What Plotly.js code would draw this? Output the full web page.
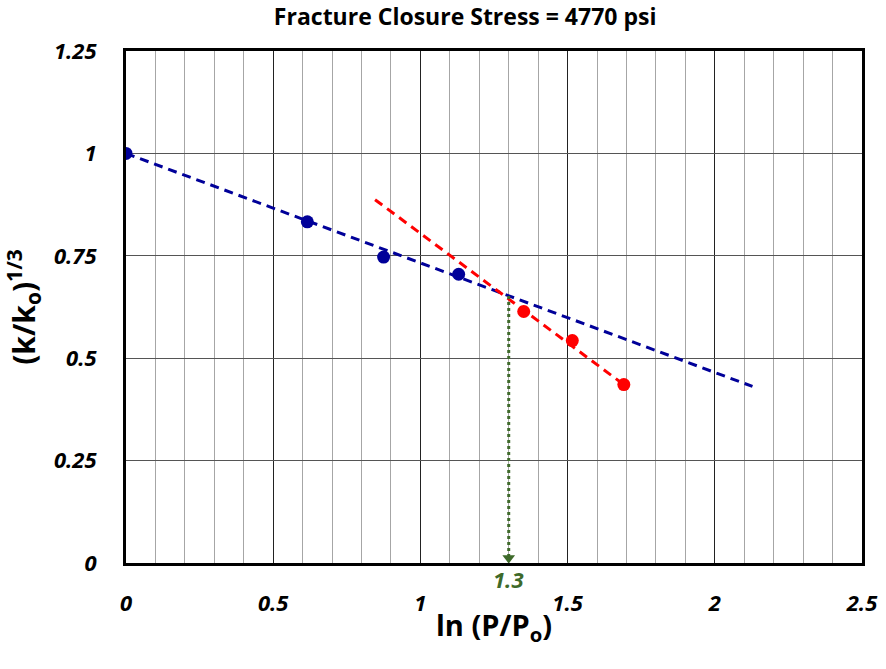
<!DOCTYPE html>
<html>
<head>
<meta charset="utf-8">
<script src="https://cdn.plot.ly/plotly-3.0.1.min.js"></script>
<style>html,body{margin:0;padding:0;background:#fff;}#chart{width:886px;height:669px;}</style>
</head>
<body>
<div id="chart"></div>
<script>
// Data
const blueX = [0, 0.616, 0.875, 1.13];
const blueY = [1.0, 0.833, 0.747, 0.705];
const redX = [1.351, 1.516, 1.691];
const redY = [0.614, 0.543, 0.4355];
const blueTrendX = [0, 2.128];
const blueTrendY = [1.0, 0.431];
const redTrendX = [0.846, 1.691];
const redTrendY = [0.887, 0.4355];
const closureX = [1.3, 1.3];
const closureY = [0.652, 0.012];
const closureLabel = "1.3";
const xTicks = [0, 0.5, 1, 1.5, 2, 2.5];
const yTicks = [0, 0.25, 0.5, 0.75, 1, 1.25];

const FONT = "Open Sans, Noto Sans, Liberation Sans, sans-serif";
const blue = "#000099";
const red = "#ff0000";
const green = "#3e6a2a";

const traces = [
  {x: blueTrendX, y: blueTrendY, mode: "lines", line: {color: blue, width: 3, dash: "9px,6px"}, hoverinfo: "skip"},
  {x: redTrendX, y: redTrendY, mode: "lines", line: {color: red, width: 3, dash: "9px,6px"}, hoverinfo: "skip"},
  {x: closureX, y: closureY, mode: "lines", line: {color: green, width: 3, dash: "dot"}, hoverinfo: "skip"},
  {x: [closureX[1]], y: [closureY[1]], mode: "markers", marker: {symbol: "triangle-down", size: 11, color: green}, hoverinfo: "skip"},
  {x: blueX, y: blueY, mode: "markers", marker: {color: blue, size: 13}},
  {x: redX, y: redY, mode: "markers", marker: {color: red, size: 13}}
];

const layout = {
  width: 886, height: 669,
  margin: {l: 126, r: 24, t: 51, b: 106},
  paper_bgcolor: "#fff", plot_bgcolor: "#fff",
  showlegend: false,
  font: {family: FONT, color: "#000"},
  title: {text: "Fracture Closure Stress = 4770 psi", font: {family: FONT, size: 23, weight: "bold", color: "#000"}, x: 0.525, xanchor: "center", y: 0.975, yanchor: "middle"},
  xaxis: {
    range: [0, 2.5], tickvals: xTicks, ticktext: xTicks.map(String),
    showline: true, mirror: true, linecolor: "#000", linewidth: 3,
    showgrid: true, gridcolor: "#222", gridwidth: 1, zeroline: false,
    minor: {dtick: 0.1, tick0: 0, showgrid: true, gridcolor: "#a6a6a6", gridwidth: 1},
    ticks: "", ticklabelstandoff: 19,
    tickfont: {family: FONT, size: 22, weight: "bold", style: "italic", color: "#000"},
    title: {text: "ln (P/P<sub>o</sub>)", font: {family: FONT, size: 29, weight: "bold", color: "#000"}, standoff: 0}
  },
  yaxis: {
    range: [0, 1.25], tickvals: yTicks, ticktext: yTicks.map(String),
    showline: true, mirror: true, linecolor: "#000", linewidth: 3,
    showgrid: true, gridcolor: "#555", gridwidth: 1, zeroline: false,
    ticks: "", ticklabelstandoff: 22,
    tickfont: {family: FONT, size: 22, weight: "bold", style: "italic", color: "#000"},
    title: {text: "(k/k<sub>o</sub>)<sup>1/3</sup>", font: {family: FONT, size: 30, weight: "bold", color: "#000"}, standoff: 10}
  },
  annotations: [
    {x: closureX[0], y: 0, xref: "x", yref: "y", text: closureLabel, showarrow: false, yanchor: "top", yshift: 1,
     font: {family: FONT, size: 22, weight: "bold", style: "italic", color: green}}
  ]
};

Plotly.newPlot("chart", traces, layout, {staticPlot: true});
</script>
</body>
</html>
